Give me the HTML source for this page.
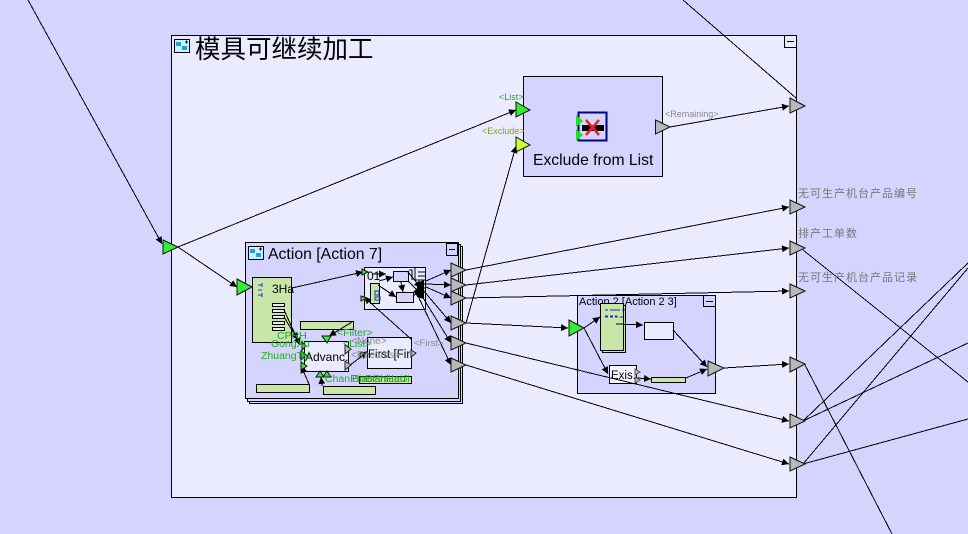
<!DOCTYPE html>
<html><head><meta charset="utf-8"><style>
html,body{margin:0;padding:0;background:#d4d4ff;width:968px;height:534px;overflow:hidden}
svg{display:block}
text{font-family:"Liberation Sans","Noto Sans CJK SC",sans-serif}
.l{stroke:#000;stroke-width:1;fill:none;shape-rendering:crispEdges}
.g{fill:#c8e6a8;stroke:#000}
.p{fill:#ebebff;stroke:#000}
.gp{fill:#b8b8b8;stroke:#111}
.np{fill:#33ee33;stroke:#111}
.tg{fill:#22aa22;font-size:10.500px}
.ty{fill:#888;font-size:10px}
</style></head><body>
<svg width="968" height="534" viewBox="0 0 968 534" xmlns="http://www.w3.org/2000/svg">
<defs>
<marker id="a" markerUnits="userSpaceOnUse" markerWidth="9" markerHeight="9" refX="7" refY="4" orient="auto"><path d="M0 0.500L7 4L0 7.500Z" fill="#000"/></marker>
<g id="ic"><rect x="0.500" y="0.500" width="15" height="13" fill="#c0f6ff" stroke="#000"/><rect x="2" y="3" width="5" height="4" fill="#2a9cdc"/><rect x="8" y="7" width="5" height="4" fill="#2a9cdc"/><path d="M11 3h3M12.500 1.500v3" stroke="#000"/></g>
</defs>
<rect width="968" height="534" fill="#d4d4ff"/>

<!-- main frame -->
<rect x="171.500" y="35.500" width="625" height="462" fill="#ebebff" stroke="#000"/>
<rect x="784.500" y="35.500" width="12" height="12" fill="#ebebff" stroke="#000"/><path d="M787 41.500h7" stroke="#000"/>
<use href="#ic" x="174" y="39"/>
<text x="195" y="58" font-size="25.500" fill="#000">模具可继续加工</text>

<!-- off-frame lines -->
<g class="l">
<path d="M28 0L162 244" marker-end="url(#a)"/>
<path d="M683 0L796 98"/>
<path d="M803 250L968 382"/>
<path d="M804 363L892 534"/>
<path d="M803 421L968 263"/>
<path d="M803 421L968 343"/>
<path d="M803 464L968 268"/>
<path d="M803 464L968 419"/>
</g>

<!-- Exclude from List -->
<rect x="523.500" y="76.500" width="139" height="100" fill="#d4d4ff" stroke="#000"/>
<rect x="578.500" y="112.500" width="28" height="28" fill="#d4d4ff" stroke="#000080" stroke-width="2"/>
<rect x="582" y="125" width="22" height="6" fill="#000"/>
<path d="M586 120L599 135M599 120L586 135" stroke="#f02020" stroke-width="2.500"/>
<polygon points="576,115 583,121 576,127" fill="#22dd22"/>
<polygon points="576,129 583,135 576,141" fill="#22dd22"/>
<text x="533" y="165" font-size="15.700" fill="#000">Exclude from List</text>
<polygon class="np" points="516,102 530,110 516,117"/>
<polygon points="516,137 530,145 516,152" fill="#c8ff32" stroke="#111"/>
<polygon class="gp" points="655.500,120 670,127 655.500,134"/>
<text x="499" y="100" font-size="9" fill="#22aa22">&lt;List&gt;</text>
<text x="482" y="134" font-size="9" fill="#8a9a22">&lt;Exclude&gt;</text>
<text x="665" y="117" font-size="9" fill="#888">&lt;Remaining&gt;</text>

<!-- Action 7 stacks -->
<rect x="249.500" y="246.500" width="213" height="157" fill="#d4d4ff" stroke="#000"/>
<rect x="247.500" y="244.500" width="213" height="157" fill="#d4d4ff" stroke="#000"/>
<rect x="245.500" y="242.500" width="213" height="156" fill="#d4d4ff" stroke="#000"/>
<rect x="446.500" y="243.500" width="11" height="12" fill="#d4d4ff" stroke="#000"/><path d="M449 249.500h6" stroke="#000"/>
<use href="#ic" x="248" y="246"/>
<text x="268" y="259" font-size="15.800" fill="#000">Action [Action 7]</text>

<!-- Action 7 contents -->
<rect x="252.500" y="277.500" width="39" height="65" class="g"/>
<path d="M258 285h4M258 290h4M258 295h4M262 283v4M262 293v4" stroke="#1040c0"/>
<text x="272" y="293" font-size="12" fill="#000">3Ha</text>
<g fill="#ebebff" stroke="#000"><rect x="272.500" y="303.500" width="12" height="3"/><rect x="272.500" y="309.500" width="12" height="3"/><rect x="272.500" y="315.500" width="12" height="3"/><rect x="272.500" y="321.500" width="12" height="3"/><rect x="272.500" y="327.500" width="12" height="3"/></g>
<rect x="300.500" y="321.500" width="53" height="8" class="g"/>
<rect x="256.500" y="384.500" width="53" height="8" class="g"/>
<rect x="323.500" y="386.500" width="52" height="8" class="g"/>
<rect x="359.500" y="376.500" width="52" height="7" class="g"/>
<rect x="304.500" y="341.500" width="44" height="30" class="p"/>
<rect x="367.500" y="337.500" width="44" height="31" class="p"/>
<text x="305" y="361" font-size="12" fill="#000">Advanc.</text>
<text x="368" y="358" font-size="11.500" fill="#000">First [Fir.</text>
<rect x="364.500" y="267.500" width="61" height="42" class="p"/>
<text x="367" y="280" font-size="12" fill="#000">01</text>
<rect x="370.500" y="283.500" width="9" height="20" class="g"/>
<path d="M375 291h4v4h-4zM375 297h5v3h-5z" fill="none" stroke="#1030c0"/>
<rect x="393.500" y="271.500" width="15" height="10" fill="#d4d4ff" stroke="#000"/>
<rect x="396.500" y="292.500" width="17" height="10" fill="#d4d4ff" stroke="#000"/>
<path d="M409 270h3v10M415 268v12h3M418 272h8M418 276h8M418 280h8M418 284h8M418 288h8M418 292h8" stroke="#000" fill="none"/>
<polygon points="417,283 424,280 424,299 417,297" fill="#000"/>
<g class="l">
<path d="M292 288L363 272" marker-end="url(#a)"/>
<path d="M412 340L364 297" marker-end="url(#a)"/>
<path d="M372 274L386 274" marker-end="url(#a)"/>
<path d="M379 281L393 277" marker-end="url(#a)"/>
<path d="M378 285L396 297" marker-end="url(#a)"/>
<path d="M401 282L403 292" marker-end="url(#a)"/>
<path d="M408 272L421 288" marker-end="url(#a)"/>
<path d="M408 281L421 294" marker-end="url(#a)"/>
<path d="M413 296L421 290" marker-end="url(#a)"/>
<path d="M426 281L451 270" marker-end="url(#a)"/>
<path d="M426 284L451 285" marker-end="url(#a)"/>
<path d="M426 287L451 298" marker-end="url(#a)"/>
<path d="M423 290L451 323" marker-end="url(#a)"/>
<path d="M420 293L451 343" marker-end="url(#a)"/>
<path d="M418 296L451 365" marker-end="url(#a)"/>
<path d="M284 310L300 345" marker-end="url(#a)"/>
<path d="M284 317L298 340" marker-end="url(#a)"/>
<path d="M352 322L329 336" marker-end="url(#a)"/>
<path d="M309 384L301 366" marker-end="url(#a)"/>
<path d="M322 386L321 377" marker-end="url(#a)"/>
<path d="M349 366L367 352" marker-end="url(#a)"/>
</g>
<polygon class="np" points="237,279 252,287 237,295"/>
<g fill="#33ee33" stroke="#111">
<polygon points="302,342 306,346 302,350"/>
<polygon points="301,351 306,355 301,360"/>
<polygon points="301,362 307,366 301,370"/>
<polygon points="322,336 331,336 327,343"/>
<polygon points="316,377 320,371 324,377"/>
<polygon points="323,377 327,371 331,377"/>
<polygon points="360,353 366,352 360,358"/>
<polygon points="362,269 368,272 362,275"/>
<polygon points="361,296 367,298 361,301"/>
</g>
<g fill="#bbb" stroke="#222">
<polygon points="345,345 351,349 345,354"/>
<polygon points="345,361 351,365 345,370"/>
<polygon points="411,350 416,353 411,357"/>
</g>
<text class="tg" x="277" y="339">CPRH</text>
<text class="tg" x="271" y="347">GongXu</text>
<text class="tg" x="261" y="359">ZhuangTai</text>
<text class="tg" x="337" y="336" font-size="10">&lt;Filter&gt;</text>
<text class="tg" x="343" y="347" font-size="10">&lt;List&gt;</text>
<text class="ty" x="351" y="344">&lt;None&gt;</text>
<text class="ty" x="351" y="358">&lt;Records&gt;</text>
<text class="ty" x="414" y="346" style="font-size:9.500px">&lt;First&gt;</text>
<text class="tg" x="325" y="382">ChanPinBianHao</text>
<text class="tg" x="352" y="382">BiaoShiLeiJi</text>

<!-- Action 2 -->
<rect x="577.500" y="295.500" width="138" height="98" fill="#d4d4ff" stroke="#000"/>
<rect x="703.500" y="295.500" width="12" height="11" fill="#d4d4ff" stroke="#000"/><path d="M706 301.500h7" stroke="#000"/>
<text x="579" y="305" font-size="11" fill="#000">Action 2 [Action 2 3]</text>
<rect x="602.500" y="305.500" width="23" height="47" class="g"/>
<rect x="600.500" y="303.500" width="23" height="47" class="g"/>
<path d="M605 310h12M605 316h12M605 317h20M612 310h13" stroke="#1030c0" stroke-dasharray="3 2"/>
<rect x="644.500" y="322.500" width="29" height="17" class="p"/>
<rect x="609.500" y="365.500" width="27" height="18" fill="#f6f6ff" stroke="#000"/>
<text x="611" y="379" font-size="11.500" fill="#000">Exis.</text>
<rect x="651.500" y="377.500" width="34" height="5" class="g"/>
<g class="l">
<path d="M584 328L600 317" marker-end="url(#a)"/>
<path d="M584 328L608 374" marker-end="url(#a)"/>
<path d="M616 324L643 325" marker-end="url(#a)"/>
<path d="M637 378L651 379" marker-end="url(#a)"/>
<path d="M673 330L707 367" marker-end="url(#a)"/>
<path d="M686 378L707 369" marker-end="url(#a)"/>
</g>
<g fill="#bbb" stroke="#555"><polygon points="635,369 640,372 635,375"/><polygon points="635,377 640,380 635,383"/></g>
<polygon class="gp" points="708,361 724,368 708,376"/>
<polygon class="np" points="569,320 584,328 569,336"/>

<!-- long connectors -->
<g class="l">
<path d="M178 247L516 110" marker-end="url(#a)"/>
<path d="M178 247L237 287" marker-end="url(#a)"/>
<path d="M466 323L516 146" marker-end="url(#a)"/>
<path d="M670 127L789 106" marker-end="url(#a)"/>
<path d="M466 270L789 207" marker-end="url(#a)"/>
<path d="M466 285L789 248" marker-end="url(#a)"/>
<path d="M466 298L789 291" marker-end="url(#a)"/>
<path d="M466 323L568 328" marker-end="url(#a)"/>
<path d="M466 343L789 421" marker-end="url(#a)"/>
<path d="M466 365L789 464" marker-end="url(#a)"/>
<path d="M724 368L789 364" marker-end="url(#a)"/>
</g>

<polygon class="np" points="163,240 178,247 163,254"/>

<!-- Action 7 outputs -->
<g class="gp">
<polygon points="451,263 466,270 451,277"/>
<polygon points="451,278 466,285 451,292"/>
<polygon points="451,291 466,298 451,305"/>
<polygon points="451,316 466,323 451,330"/>
<polygon points="451,336 466,343 451,350"/>
<polygon points="451,358 466,365 451,372"/>
</g>

<!-- frame outputs -->
<g class="gp">
<polygon points="790,98 805,106 790,113"/>
<polygon points="790,200 805,207 790,214"/>
<polygon points="790,241 805,248 790,255"/>
<polygon points="790,284 805,291 790,298"/>
<polygon points="790,357 805,364 790,372"/>
<polygon points="790,414 805,421 790,428"/>
<polygon points="790,457 805,464 790,471"/>
</g>
<text x="798" y="197" font-size="11" letter-spacing="1" fill="#777">无可生产机台产品编号</text>
<text x="798" y="237" font-size="11" letter-spacing="1" fill="#777">排产工单数</text>
<text x="798" y="281" font-size="11" letter-spacing="1" fill="#777">无可生产机台产品记录</text>
</svg>
</body></html>
